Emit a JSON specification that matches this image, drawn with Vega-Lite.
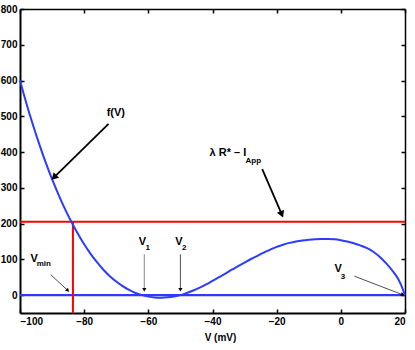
{
  "$schema": "https://vega.github.io/schema/vega-lite/v6.json",
  "width": 385,
  "height": 304,
  "autosize": {"type": "none"},
  "padding": {"left": 20, "top": 9, "right": 10, "bottom": 37},
  "background": "white",
  "config": {
    "view": {"stroke": null},
    "font": "Liberation Sans",
    "axis": {
      "grid": false,
      "domainColor": "black",
      "domainWidth": 2,
      "tickColor": "black",
      "tickWidth": 1.5,
      "tickSize": -4,
      "labelFont": "Liberation Sans",
      "labelFontWeight": "bold",
      "labelFontSize": 10,
      "labelColor": "black",
      "titleFont": "Liberation Sans",
      "titleFontWeight": "bold",
      "titleFontSize": 10,
      "titleColor": "black"
    }
  },
  "datasets": {
    "curve": [
      {"V": -100, "f": 600}, {"V": -98, "f": 536}, {"V": -96, "f": 477}, {"V": -94, "f": 422},
      {"V": -92, "f": 371}, {"V": -90, "f": 324}, {"V": -88, "f": 281}, {"V": -86, "f": 241},
      {"V": -84, "f": 205}, {"V": -82, "f": 172}, {"V": -80, "f": 142}, {"V": -78, "f": 115.5},
      {"V": -76, "f": 92}, {"V": -74, "f": 71}, {"V": -72, "f": 53}, {"V": -70, "f": 38},
      {"V": -68, "f": 25}, {"V": -66, "f": 14.5}, {"V": -64, "f": 6}, {"V": -62, "f": 0},
      {"V": -60, "f": -4.2}, {"V": -58, "f": -6.6}, {"V": -56, "f": -7.2}, {"V": -54, "f": -6.2},
      {"V": -52, "f": -3.8}, {"V": -50, "f": 0}, {"V": -48, "f": 6}, {"V": -46, "f": 13},
      {"V": -44, "f": 21}, {"V": -42, "f": 30}, {"V": -40, "f": 40}, {"V": -38, "f": 50},
      {"V": -36, "f": 60}, {"V": -34, "f": 71}, {"V": -32, "f": 81}, {"V": -30, "f": 91},
      {"V": -28, "f": 101}, {"V": -26, "f": 110}, {"V": -24, "f": 119}, {"V": -22, "f": 127},
      {"V": -20, "f": 135}, {"V": -18, "f": 141}, {"V": -16, "f": 146}, {"V": -14, "f": 150},
      {"V": -12, "f": 153}, {"V": -10, "f": 155}, {"V": -8, "f": 156.5}, {"V": -6, "f": 157},
      {"V": -4, "f": 157}, {"V": -2, "f": 156}, {"V": 0, "f": 153.5}, {"V": 2, "f": 150},
      {"V": 4, "f": 145}, {"V": 6, "f": 139}, {"V": 8, "f": 132}, {"V": 10, "f": 122},
      {"V": 12, "f": 108}, {"V": 14, "f": 90}, {"V": 16, "f": 69}, {"V": 18, "f": 43},
      {"V": 19, "f": 24}, {"V": 20, "f": 0}
    ],
    "zero": [{"V": -100, "y": 0, "V2": 20, "y2": 0}],
    "level": [
      {"V": -100, "y": 205, "V2": 20, "y2": 205},
      {"V": -83.5, "y": -50, "V2": -83.5, "y2": 205}
    ],
    "arrows": [
      {"name": "f", "V": -72.4, "y": 479, "V2": -89.4, "y2": 329},
      {"name": "lam", "V": -24.5, "y": 352, "V2": -18.4, "y2": 226},
      {"name": "vmin", "V": -90.4, "y": 57, "V2": -85.1, "y2": 13},
      {"name": "v1", "V": -61.25, "y": 114, "V2": -61.25, "y2": 15},
      {"name": "v2", "V": -50, "y": 114, "V2": -50, "y2": 15},
      {"name": "v3", "V": 4.2, "y": 53, "V2": 19.3, "y2": 1}
    ],
    "labels": [
      {"kind": "main", "V": -73.0, "y": 510, "text": "f(V)"},
      {"kind": "main", "V": -40.9, "y": 397, "text": "λ R* – I"},
      {"kind": "sub", "V": -29.7, "y": 375, "text": "App"},
      {"kind": "main", "V": -96.7, "y": 102, "text": "V"},
      {"kind": "sub", "V": -94.8, "y": 86, "text": "min"},
      {"kind": "main", "V": -63.0, "y": 149, "text": "V"},
      {"kind": "sub", "V": -60.9, "y": 131, "text": "1"},
      {"kind": "main", "V": -51.6, "y": 149, "text": "V"},
      {"kind": "sub", "V": -49.5, "y": 131, "text": "2"},
      {"kind": "main", "V": -2.0, "y": 72, "text": "V"},
      {"kind": "sub", "V": 0.0, "y": 51, "text": "3"}
    ]
  },
  "layer": [
    {
      "data": {"name": "zero"},
      "mark": {"type": "rule", "strokeWidth": 2.2, "color": "#2b3cff"},
      "encoding": {
        "x": {"field": "V", "type": "quantitative", "scale": {"domain": [-100, 20], "nice": false, "zero": false},
          "axis": {"orient": "bottom", "values": [-100, -80, -60, -40, -20, 0, 20], "title": "V (mV)", "labelPadding": 7, "titlePadding": 6, "titleX": 200}},
        "y": {"field": "y", "type": "quantitative", "scale": {"domain": [-50, 800], "nice": false, "zero": false},
          "axis": {"orient": "left", "values": [0, 100, 200, 300, 400, 500, 600, 700, 800], "title": null, "labelPadding": 7}},
        "x2": {"field": "V2"},
        "y2": {"field": "y2"}
      }
    },
    {
      "data": {"name": "level"},
      "mark": {"type": "rule", "strokeWidth": 2, "color": "#ff0000"},
      "encoding": {
        "x": {"field": "V", "type": "quantitative",
          "axis": {"orient": "top", "values": [-100, -80, -60, -40, -20, 0, 20], "labels": false, "title": null, "domainWidth": 1.5}},
        "y": {"field": "y", "type": "quantitative",
          "axis": {"orient": "right", "values": [0, 100, 200, 300, 400, 500, 600, 700, 800], "labels": false, "title": null, "domainWidth": 1.5}},
        "x2": {"field": "V2"},
        "y2": {"field": "y2"}
      }
    },
    {
      "data": {"name": "curve"},
      "mark": {"type": "line", "color": "#2b3cff", "strokeWidth": 2, "interpolate": "monotone"},
      "encoding": {
        "x": {"field": "V", "type": "quantitative", "axis": null},
        "y": {"field": "f", "type": "quantitative", "axis": null}
      }
    },
    {
      "data": {"name": "arrows"},
      "transform": [{"filter": "datum.name == 'f' || datum.name == 'lam'"}],
      "mark": {"type": "rule", "strokeWidth": 1.8, "color": "black"},
      "encoding": {
        "x": {"field": "V", "type": "quantitative", "axis": null},
        "y": {"field": "y", "type": "quantitative", "axis": null},
        "x2": {"field": "V2"},
        "y2": {"field": "y2"}
      }
    },
    {
      "data": {"name": "arrows"},
      "transform": [{"filter": "datum.name == 'vmin' || datum.name == 'v2' || datum.name == 'v3'"}],
      "mark": {"type": "rule", "strokeWidth": 0.8, "color": "#222222"},
      "encoding": {
        "x": {"field": "V", "type": "quantitative", "axis": null},
        "y": {"field": "y", "type": "quantitative", "axis": null},
        "x2": {"field": "V2"},
        "y2": {"field": "y2"}
      }
    },
    {
      "data": {"name": "arrows"},
      "transform": [{"filter": "datum.name == 'v1'"}],
      "mark": {"type": "rule", "strokeWidth": 1.2, "color": "#999999"},
      "encoding": {
        "x": {"field": "V", "type": "quantitative", "axis": null},
        "y": {"field": "y", "type": "quantitative", "axis": null},
        "x2": {"field": "V2"},
        "y2": {"field": "y2"}
      }
    },
    {
      "data": {"name": "arrows"},
      "transform": [{"filter": "datum.name == 'f'"}],
      "mark": {"type": "point", "shape": "triangle-up", "filled": true, "color": "black", "size": 60, "angle": 225, "opacity": 1},
      "encoding": {"x": {"field": "V2", "type": "quantitative", "axis": null}, "y": {"field": "y2", "type": "quantitative", "axis": null}}
    },
    {
      "data": {"name": "arrows"},
      "transform": [{"filter": "datum.name == 'lam'"}],
      "mark": {"type": "point", "shape": "triangle-up", "filled": true, "color": "black", "size": 60, "angle": 157, "opacity": 1},
      "encoding": {"x": {"field": "V2", "type": "quantitative", "axis": null}, "y": {"field": "y2", "type": "quantitative", "axis": null}}
    },
    {
      "data": {"name": "arrows"},
      "transform": [{"filter": "datum.name == 'vmin'"}],
      "mark": {"type": "point", "shape": "triangle-up", "filled": true, "color": "black", "size": 18, "angle": 133, "opacity": 1},
      "encoding": {"x": {"field": "V2", "type": "quantitative", "axis": null}, "y": {"field": "y2", "type": "quantitative", "axis": null}}
    },
    {
      "data": {"name": "arrows"},
      "transform": [{"filter": "datum.name == 'v1' || datum.name == 'v2'"}],
      "mark": {"type": "point", "shape": "triangle-up", "filled": true, "color": "black", "size": 18, "angle": 180, "opacity": 1},
      "encoding": {"x": {"field": "V2", "type": "quantitative", "axis": null}, "y": {"field": "y2", "type": "quantitative", "axis": null}}
    },
    {
      "data": {"name": "arrows"},
      "transform": [{"filter": "datum.name == 'v3'"}],
      "mark": {"type": "point", "shape": "triangle-up", "filled": true, "color": "black", "size": 18, "angle": 111, "opacity": 1},
      "encoding": {"x": {"field": "V2", "type": "quantitative", "axis": null}, "y": {"field": "y2", "type": "quantitative", "axis": null}}
    },
    {
      "data": {"name": "labels"},
      "transform": [{"filter": "datum.kind == 'main'"}],
      "mark": {"type": "text", "align": "left", "baseline": "middle", "font": "Liberation Sans", "fontWeight": "bold", "fontSize": 11, "color": "black"},
      "encoding": {"x": {"field": "V", "type": "quantitative", "axis": null}, "y": {"field": "y", "type": "quantitative", "axis": null}, "text": {"field": "text"}}
    },
    {
      "data": {"name": "labels"},
      "transform": [{"filter": "datum.kind == 'sub'"}],
      "mark": {"type": "text", "align": "left", "baseline": "middle", "font": "Liberation Sans", "fontWeight": "bold", "fontSize": 8, "color": "black"},
      "encoding": {"x": {"field": "V", "type": "quantitative", "axis": null}, "y": {"field": "y", "type": "quantitative", "axis": null}, "text": {"field": "text"}}
    }
  ]
}
